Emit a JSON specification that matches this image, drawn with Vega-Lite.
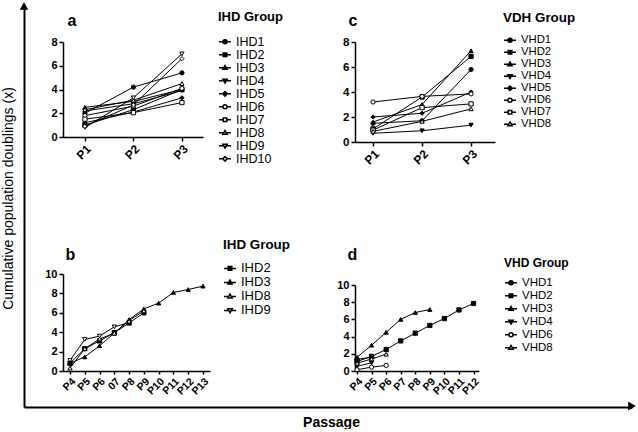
{
  "$schema": "https://vega.github.io/schema/vega-lite/v6.json",
  "background": "white",
  "padding": {"left": 1, "top": 2, "right": 0, "bottom": 0},
  "bounds": "flush",
  "spacing": 400,
  "config": {
    "font": "Liberation Sans",
    "view": {"stroke": null},
    "axis": {"domainColor": "black", "tickColor": "black", "labelColor": "black", "titleColor": "black", "grid": false, "labelFont": "Liberation Sans", "titleFont": "Liberation Sans"},
    "legend": {"labelFont": "Liberation Sans", "titleFont": "Liberation Sans", "labelColor": "black", "titleColor": "black"}
  },
  "datasets": {
    "a": [
      {"series": "IHD1", "passage": "P1", "n": 1, "value": 2.0}, {"series": "IHD1", "passage": "P2", "n": 2, "value": 4.2}, {"series": "IHD1", "passage": "P3", "n": 3, "value": 5.4},
      {"series": "IHD2", "passage": "P1", "n": 1, "value": 1.0}, {"series": "IHD2", "passage": "P2", "n": 2, "value": 2.3}, {"series": "IHD2", "passage": "P3", "n": 3, "value": 4.0},
      {"series": "IHD3", "passage": "P1", "n": 1, "value": 2.5}, {"series": "IHD3", "passage": "P2", "n": 2, "value": 3.0}, {"series": "IHD3", "passage": "P3", "n": 3, "value": 4.0},
      {"series": "IHD4", "passage": "P1", "n": 1, "value": 2.2}, {"series": "IHD4", "passage": "P2", "n": 2, "value": 2.8}, {"series": "IHD4", "passage": "P3", "n": 3, "value": 3.9},
      {"series": "IHD5", "passage": "P1", "n": 1, "value": 1.2}, {"series": "IHD5", "passage": "P2", "n": 2, "value": 2.1}, {"series": "IHD5", "passage": "P3", "n": 3, "value": 3.3},
      {"series": "IHD6", "passage": "P1", "n": 1, "value": 1.8}, {"series": "IHD6", "passage": "P2", "n": 2, "value": 2.6}, {"series": "IHD6", "passage": "P3", "n": 3, "value": 4.1},
      {"series": "IHD7", "passage": "P1", "n": 1, "value": 1.5}, {"series": "IHD7", "passage": "P2", "n": 2, "value": 2.05}, {"series": "IHD7", "passage": "P3", "n": 3, "value": 2.9},
      {"series": "IHD8", "passage": "P1", "n": 1, "value": 2.3}, {"series": "IHD8", "passage": "P2", "n": 2, "value": 3.1}, {"series": "IHD8", "passage": "P3", "n": 3, "value": 4.5},
      {"series": "IHD9", "passage": "P1", "n": 1, "value": 0.8}, {"series": "IHD9", "passage": "P2", "n": 2, "value": 3.3}, {"series": "IHD9", "passage": "P3", "n": 3, "value": 7.0},
      {"series": "IHD10", "passage": "P1", "n": 1, "value": 0.9}, {"series": "IHD10", "passage": "P2", "n": 2, "value": 2.7}, {"series": "IHD10", "passage": "P3", "n": 3, "value": 6.6}
    ],
    "c": [
      {"series": "VHD1", "passage": "P1", "n": 1, "value": 1.5}, {"series": "VHD1", "passage": "P2", "n": 2, "value": 1.7}, {"series": "VHD1", "passage": "P3", "n": 3, "value": 5.8},
      {"series": "VHD2", "passage": "P1", "n": 1, "value": 1.05}, {"series": "VHD2", "passage": "P2", "n": 2, "value": 3.6}, {"series": "VHD2", "passage": "P3", "n": 3, "value": 6.85},
      {"series": "VHD3", "passage": "P1", "n": 1, "value": 1.6}, {"series": "VHD3", "passage": "P2", "n": 2, "value": 3.0}, {"series": "VHD3", "passage": "P3", "n": 3, "value": 7.3},
      {"series": "VHD4", "passage": "P1", "n": 1, "value": 0.7}, {"series": "VHD4", "passage": "P2", "n": 2, "value": 0.9}, {"series": "VHD4", "passage": "P3", "n": 3, "value": 1.35},
      {"series": "VHD5", "passage": "P1", "n": 1, "value": 2.0}, {"series": "VHD5", "passage": "P2", "n": 2, "value": 2.3}, {"series": "VHD5", "passage": "P3", "n": 3, "value": 4.0},
      {"series": "VHD6", "passage": "P1", "n": 1, "value": 3.2}, {"series": "VHD6", "passage": "P2", "n": 2, "value": 3.65}, {"series": "VHD6", "passage": "P3", "n": 3, "value": 3.85},
      {"series": "VHD7", "passage": "P1", "n": 1, "value": 0.95}, {"series": "VHD7", "passage": "P2", "n": 2, "value": 2.75}, {"series": "VHD7", "passage": "P3", "n": 3, "value": 3.05},
      {"series": "VHD8", "passage": "P1", "n": 1, "value": 0.85}, {"series": "VHD8", "passage": "P2", "n": 2, "value": 1.65}, {"series": "VHD8", "passage": "P3", "n": 3, "value": 2.65}
    ],
    "b": [
      {"series": "IHD2", "passage": "P4", "n": 4, "value": 0.8}, {"series": "IHD2", "passage": "P5", "n": 5, "value": 2.3}, {"series": "IHD2", "passage": "P6", "n": 6, "value": 3.1}, {"series": "IHD2", "passage": "P7", "n": 7, "value": 3.95}, {"series": "IHD2", "passage": "P8", "n": 8, "value": 4.95}, {"series": "IHD2", "passage": "P9", "n": 9, "value": 6.0},
      {"series": "IHD3", "passage": "P4", "n": 4, "value": 0.8}, {"series": "IHD3", "passage": "P5", "n": 5, "value": 1.45}, {"series": "IHD3", "passage": "P6", "n": 6, "value": 2.6}, {"series": "IHD3", "passage": "P7", "n": 7, "value": 3.9}, {"series": "IHD3", "passage": "P8", "n": 8, "value": 5.3}, {"series": "IHD3", "passage": "P9", "n": 9, "value": 6.4}, {"series": "IHD3", "passage": "P10", "n": 10, "value": 7.0}, {"series": "IHD3", "passage": "P11", "n": 11, "value": 8.1}, {"series": "IHD3", "passage": "P12", "n": 12, "value": 8.4}, {"series": "IHD3", "passage": "P13", "n": 13, "value": 8.75},
      {"series": "IHD8", "passage": "P4", "n": 4, "value": 0.3}, {"series": "IHD8", "passage": "P5", "n": 5, "value": 2.3}, {"series": "IHD8", "passage": "P6", "n": 6, "value": 3.3}, {"series": "IHD8", "passage": "P7", "n": 7, "value": 3.9}, {"series": "IHD8", "passage": "P8", "n": 8, "value": 5.2}, {"series": "IHD8", "passage": "P9", "n": 9, "value": 6.2},
      {"series": "IHD9", "passage": "P4", "n": 4, "value": 1.1}, {"series": "IHD9", "passage": "P5", "n": 5, "value": 3.25}, {"series": "IHD9", "passage": "P6", "n": 6, "value": 3.6}, {"series": "IHD9", "passage": "P7", "n": 7, "value": 4.55}, {"series": "IHD9", "passage": "P8", "n": 8, "value": 5.0}
    ],
    "d": [
      {"series": "VHD1", "passage": "P4", "n": 4, "value": 1.35}, {"series": "VHD1", "passage": "P5", "n": 5, "value": 1.6},
      {"series": "VHD2", "passage": "P4", "n": 4, "value": 1.1}, {"series": "VHD2", "passage": "P5", "n": 5, "value": 1.7}, {"series": "VHD2", "passage": "P6", "n": 6, "value": 2.5}, {"series": "VHD2", "passage": "P7", "n": 7, "value": 3.5}, {"series": "VHD2", "passage": "P8", "n": 8, "value": 4.4}, {"series": "VHD2", "passage": "P9", "n": 9, "value": 5.3}, {"series": "VHD2", "passage": "P10", "n": 10, "value": 6.1}, {"series": "VHD2", "passage": "P11", "n": 11, "value": 7.1}, {"series": "VHD2", "passage": "P12", "n": 12, "value": 7.85},
      {"series": "VHD3", "passage": "P4", "n": 4, "value": 1.6}, {"series": "VHD3", "passage": "P5", "n": 5, "value": 3.0}, {"series": "VHD3", "passage": "P6", "n": 6, "value": 4.5}, {"series": "VHD3", "passage": "P7", "n": 7, "value": 6.0}, {"series": "VHD3", "passage": "P8", "n": 8, "value": 6.8}, {"series": "VHD3", "passage": "P9", "n": 9, "value": 7.15},
      {"series": "VHD4", "passage": "P4", "n": 4, "value": 0.55}, {"series": "VHD4", "passage": "P5", "n": 5, "value": 0.95},
      {"series": "VHD6", "passage": "P4", "n": 4, "value": 0.15}, {"series": "VHD6", "passage": "P5", "n": 5, "value": 0.45}, {"series": "VHD6", "passage": "P6", "n": 6, "value": 0.65},
      {"series": "VHD8", "passage": "P4", "n": 4, "value": 0.9}, {"series": "VHD8", "passage": "P5", "n": 5, "value": 1.4}, {"series": "VHD8", "passage": "P6", "n": 6, "value": 1.95}
    ]
  },
  "vconcat": [
    {
      "hconcat": [
        {
          "width": 1, "height": 401,
          "data": {"values": [{"end": 1}]},
          "mark": {"type": "point", "shape": "triangle-up", "filled": true, "color": "black", "size": 75, "opacity": 1},
          "encoding": {
            "x": {"datum": 0, "type": "quantitative", "scale": {"domain": [0, 1]}, "axis": null},
            "y": {"field": "end", "type": "quantitative", "scale": {"domain": [0, 1]},
              "axis": {"domainWidth": 2, "ticks": false, "labels": false, "title": "Cumulative population doublings (x)", "titleFontSize": 14, "titleFontWeight": "normal", "titlePadding": 9, "titleY": 192}}
          }
        },
        {
          "vconcat": [
            {
              "width": 1, "height": 1,
              "data": {"values": [{"end": 1}]},
              "mark": {"type": "point", "opacity": 0, "size": 1},
              "encoding": {}
            },
            {
              "hconcat": [
                {
                  "vconcat": [
                    {
                      "width": 140, "height": 95,
                      "data": {"name": "a"},
                      "encoding": {
                        "x": {"field": "passage", "type": "ordinal", "scale": {"type": "point", "domain": ["P1", "P2", "P3"], "padding": 0.443, "align": 0.51},
                          "axis": {"title": null, "labelAngle": -45, "labelFontSize": 12, "labelFontWeight": "bold", "tickSize": 4, "tickWidth": 1.5, "domainWidth": 1.5, "labelPadding": 2}},
                        "y": {"field": "value", "type": "quantitative", "scale": {"domain": [0, 8], "nice": false},
                          "axis": {"values": [0, 2, 4, 6, 8], "labelFontSize": 11, "labelFontWeight": "bold", "tickSize": 4, "tickWidth": 1.5, "domainWidth": 1.5, "labelPadding": 2,
                            "title": "a", "titleAngle": 0, "titleX": 4, "titleY": -17, "titleAlign": "left", "titleBaseline": "alphabetic", "titleFontSize": 16, "titleFontWeight": "bold"}}
                      },
                      "layer": [
                        {"mark": {"type": "line", "color": "black", "strokeWidth": 1}, "encoding": {"detail": {"field": "series"}, "order": {"field": "n", "type": "quantitative"}}},
                        {"mark": {"type": "point", "filled": true, "stroke": "black", "strokeWidth": 1, "size": 18, "opacity": 1},
                          "encoding": {
                            "shape": {"field": "series", "scale": {"domain": ["IHD1", "IHD2", "IHD3", "IHD4", "IHD5", "IHD6", "IHD7", "IHD8", "IHD9", "IHD10"], "range": ["circle", "square", "triangle-up", "triangle-down", "diamond", "circle", "square", "triangle-up", "triangle-down", "diamond"]}, "legend": null},
                            "fill": {"field": "series", "scale": {"domain": ["IHD1", "IHD2", "IHD3", "IHD4", "IHD5", "IHD6", "IHD7", "IHD8", "IHD9", "IHD10"], "range": ["black", "black", "black", "black", "black", "white", "white", "white", "white", "white"]}, "legend": null}
                          }},
                        {"transform": [{"filter": "false"}],
                          "mark": {"type": "point", "filled": true, "stroke": "black", "strokeWidth": 1, "size": 144, "opacity": 1},
                          "encoding": {
                            "shape": {"field": "series", "scale": {"domain": ["IHD1", "IHD2", "IHD3", "IHD4", "IHD5", "IHD6", "IHD7", "IHD8", "IHD9", "IHD10"], "range": [
                              "M-1,0H-0.34M0.34,0H1M-0.34,0A0.34,0.34,0,1,1,0.34,0A0.34,0.34,0,1,1,-0.34,0Z",
                              "M-1,0H-0.3M0.3,0H1M-0.3,-0.3H0.3V0.3H-0.3Z",
                              "M-1,0H-0.22M0.22,0H1M0,-0.38L0.36,0.26H-0.36Z",
                              "M-1,0H-0.22M0.22,0H1M0,0.38L0.36,-0.26H-0.36Z",
                              "M-1,0H-0.38M0.38,0H1M0,-0.38L0.38,0L0,0.38L-0.38,0Z",
                              "M-1,0H-0.34M0.34,0H1M-0.34,0A0.34,0.34,0,1,1,0.34,0A0.34,0.34,0,1,1,-0.34,0Z",
                              "M-1,0H-0.3M0.3,0H1M-0.3,-0.3H0.3V0.3H-0.3Z",
                              "M-1,0H-0.22M0.22,0H1M0,-0.38L0.36,0.26H-0.36Z",
                              "M-1,0H-0.22M0.22,0H1M0,0.38L0.36,-0.26H-0.36Z",
                              "M-1,0H-0.38M0.38,0H1M0,-0.38L0.38,0L0,0.38L-0.38,0Z"]},
                              "legend": {"title": "IHD Group", "orient": "none", "legendX": 155, "legendY": -31, "padding": 0, "titleFontSize": 13, "titleFontWeight": "bold", "titlePadding": 12, "labelFontSize": 12.5, "labelOffset": 4, "symbolSize": 144, "clipHeight": 11.6, "rowPadding": -3.7,
                                "encode": {"symbols": {"update": {"stroke": {"value": "black"}, "strokeWidth": {"value": 1}}}}}},
                            "fill": {"field": "series", "scale": {"domain": ["IHD1", "IHD2", "IHD3", "IHD4", "IHD5", "IHD6", "IHD7", "IHD8", "IHD9", "IHD10"], "range": ["black", "black", "black", "black", "black", "white", "white", "white", "white", "white"]},
                              "legend": {"title": "IHD Group", "orient": "none", "legendX": 155, "legendY": -31, "padding": 0, "titleFontSize": 13, "titleFontWeight": "bold", "titlePadding": 12, "labelFontSize": 12.5, "labelOffset": 4, "symbolSize": 144, "clipHeight": 11.6, "rowPadding": -3.7,
                                "encode": {"symbols": {"update": {"stroke": {"value": "black"}, "strokeWidth": {"value": 1}}}}}}
                          }}
                      ],
                      "resolve": {"scale": {"shape": "independent", "fill": "independent"}}
                    },
                    {
                      "width": 147, "height": 97,
                      "data": {"name": "b"},
                      "encoding": {
                        "x": {"field": "passage", "type": "ordinal", "scale": {"type": "point", "domain": ["P4", "P5", "P6", "P7", "P8", "P9", "P10", "P11", "P12", "P13"], "padding": 0.474, "align": 0.5},
                          "axis": {"title": null, "labelAngle": -45, "labelFontSize": 10.5, "labelFontWeight": "bold", "tickSize": 3, "tickWidth": 1.5, "domainWidth": 1.5, "labelPadding": 2, "labelExpr": "datum.value == 'P7' ? '07' : datum.label"}},
                        "y": {"field": "value", "type": "quantitative", "scale": {"domain": [0, 10], "nice": false},
                          "axis": {"values": [0, 2, 4, 6, 8, 10], "labelFontSize": 11, "labelFontWeight": "bold", "tickSize": 4, "tickWidth": 1.5, "domainWidth": 1.5, "labelPadding": 2,
                            "title": "b", "titleAngle": 0, "titleX": 2, "titleY": -15, "titleAlign": "left", "titleBaseline": "alphabetic", "titleFontSize": 16, "titleFontWeight": "bold"}}
                      },
                      "layer": [
                        {"mark": {"type": "line", "color": "black", "strokeWidth": 1}, "encoding": {"detail": {"field": "series"}, "order": {"field": "n", "type": "quantitative"}}},
                        {"mark": {"type": "point", "filled": true, "stroke": "black", "strokeWidth": 1, "size": 18, "opacity": 1},
                          "encoding": {
                            "shape": {"field": "series", "scale": {"domain": ["IHD2", "IHD3", "IHD8", "IHD9"], "range": ["square", "triangle-up", "triangle-up", "triangle-down"]}, "legend": null},
                            "fill": {"field": "series", "scale": {"domain": ["IHD2", "IHD3", "IHD8", "IHD9"], "range": ["black", "black", "white", "white"]}, "legend": null}
                          }},
                        {"transform": [{"filter": "false"}],
                          "mark": {"type": "point", "filled": true, "stroke": "black", "strokeWidth": 1, "size": 144, "opacity": 1},
                          "encoding": {
                            "shape": {"field": "series", "scale": {"domain": ["IHD2", "IHD3", "IHD8", "IHD9"], "range": [
                              "M-1,0H-0.3M0.3,0H1M-0.3,-0.3H0.3V0.3H-0.3Z",
                              "M-1,0H-0.22M0.22,0H1M0,-0.38L0.36,0.26H-0.36Z",
                              "M-1,0H-0.22M0.22,0H1M0,-0.38L0.36,0.26H-0.36Z",
                              "M-1,0H-0.22M0.22,0H1M0,0.38L0.36,-0.26H-0.36Z"]},
                              "legend": {"title": "IHD Group", "orient": "none", "legendX": 160, "legendY": -36, "padding": 0, "titleFontSize": 13.4, "titleFontWeight": "bold", "titlePadding": 10, "labelFontSize": 13, "labelOffset": 4, "symbolSize": 144, "rowPadding": 0,
                                "encode": {"symbols": {"update": {"stroke": {"value": "black"}, "strokeWidth": {"value": 1}}}}}},
                            "fill": {"field": "series", "scale": {"domain": ["IHD2", "IHD3", "IHD8", "IHD9"], "range": ["black", "black", "white", "white"]},
                              "legend": {"title": "IHD Group", "orient": "none", "legendX": 160, "legendY": -36, "padding": 0, "titleFontSize": 13.4, "titleFontWeight": "bold", "titlePadding": 10, "labelFontSize": 13, "labelOffset": 4, "symbolSize": 144, "rowPadding": 0,
                                "encode": {"symbols": {"update": {"stroke": {"value": "black"}, "strokeWidth": {"value": 1}}}}}}
                          }}
                      ],
                      "resolve": {"scale": {"shape": "independent", "fill": "independent"}}
                    }
                  ],
                  "spacing": 137,
                  "bounds": "flush"
                },
                {
                  "vconcat": [
                    {
                      "width": 140, "height": 100,
                      "data": {"name": "c"},
                      "encoding": {
                        "x": {"field": "passage", "type": "ordinal", "scale": {"type": "point", "domain": ["P1", "P2", "P3"], "padding": 0.4286, "align": 0.43},
                          "axis": {"title": null, "labelAngle": -45, "labelFontSize": 12, "labelFontWeight": "bold", "tickSize": 4, "tickWidth": 1.5, "domainWidth": 1.5, "labelPadding": 2}},
                        "y": {"field": "value", "type": "quantitative", "scale": {"domain": [0, 8], "nice": false},
                          "axis": {"values": [0, 2, 4, 6, 8], "labelFontSize": 11.5, "labelFontWeight": "bold", "tickSize": 4, "tickWidth": 1.5, "domainWidth": 1.5, "labelPadding": 2,
                            "title": "c", "titleAngle": 0, "titleX": -7, "titleY": -17, "titleAlign": "left", "titleBaseline": "alphabetic", "titleFontSize": 16, "titleFontWeight": "bold"}}
                      },
                      "layer": [
                        {"mark": {"type": "line", "color": "black", "strokeWidth": 1}, "encoding": {"detail": {"field": "series"}, "order": {"field": "n", "type": "quantitative"}}},
                        {"mark": {"type": "point", "filled": true, "stroke": "black", "strokeWidth": 1, "size": 18, "opacity": 1},
                          "encoding": {
                            "shape": {"field": "series", "scale": {"domain": ["VHD1", "VHD2", "VHD3", "VHD4", "VHD5", "VHD6", "VHD7", "VHD8"], "range": ["circle", "square", "triangle-up", "triangle-down", "diamond", "circle", "square", "triangle-up"]}, "legend": null},
                            "fill": {"field": "series", "scale": {"domain": ["VHD1", "VHD2", "VHD3", "VHD4", "VHD5", "VHD6", "VHD7", "VHD8"], "range": ["black", "black", "black", "black", "black", "white", "white", "white"]}, "legend": null}
                          }},
                        {"transform": [{"filter": "false"}],
                          "mark": {"type": "point", "filled": true, "stroke": "black", "strokeWidth": 1, "size": 144, "opacity": 1},
                          "encoding": {
                            "shape": {"field": "series", "scale": {"domain": ["VHD1", "VHD2", "VHD3", "VHD4", "VHD5", "VHD6", "VHD7", "VHD8"], "range": [
                              "M-1,0H-0.34M0.34,0H1M-0.34,0A0.34,0.34,0,1,1,0.34,0A0.34,0.34,0,1,1,-0.34,0Z",
                              "M-1,0H-0.3M0.3,0H1M-0.3,-0.3H0.3V0.3H-0.3Z",
                              "M-1,0H-0.22M0.22,0H1M0,-0.38L0.36,0.26H-0.36Z",
                              "M-1,0H-0.22M0.22,0H1M0,0.38L0.36,-0.26H-0.36Z",
                              "M-1,0H-0.38M0.38,0H1M0,-0.38L0.38,0L0,0.38L-0.38,0Z",
                              "M-1,0H-0.34M0.34,0H1M-0.34,0A0.34,0.34,0,1,1,0.34,0A0.34,0.34,0,1,1,-0.34,0Z",
                              "M-1,0H-0.3M0.3,0H1M-0.3,-0.3H0.3V0.3H-0.3Z",
                              "M-1,0H-0.22M0.22,0H1M0,-0.38L0.36,0.26H-0.36Z"]},
                              "legend": {"title": "VDH Group", "orient": "none", "legendX": 148, "legendY": -31, "padding": 0, "titleFontSize": 13.4, "titleFontWeight": "bold", "titlePadding": 10, "labelFontSize": 11.3, "labelOffset": 4, "symbolSize": 144, "clipHeight": 11.6, "rowPadding": -3.7,
                                "encode": {"symbols": {"update": {"stroke": {"value": "black"}, "strokeWidth": {"value": 1}}}}}},
                            "fill": {"field": "series", "scale": {"domain": ["VHD1", "VHD2", "VHD3", "VHD4", "VHD5", "VHD6", "VHD7", "VHD8"], "range": ["black", "black", "black", "black", "black", "white", "white", "white"]},
                              "legend": {"title": "VDH Group", "orient": "none", "legendX": 148, "legendY": -31, "padding": 0, "titleFontSize": 13.4, "titleFontWeight": "bold", "titlePadding": 10, "labelFontSize": 11.3, "labelOffset": 4, "symbolSize": 144, "clipHeight": 11.6, "rowPadding": -3.7,
                                "encode": {"symbols": {"update": {"stroke": {"value": "black"}, "strokeWidth": {"value": 1}}}}}}
                          }}
                      ],
                      "resolve": {"scale": {"shape": "independent", "fill": "independent"}}
                    },
                    {
                      "width": 124, "height": 86,
                      "data": {"name": "d"},
                      "encoding": {
                        "x": {"field": "passage", "type": "ordinal", "scale": {"type": "point", "domain": ["P4", "P5", "P6", "P7", "P8", "P9", "P10", "P11", "P12"], "padding": 0.2575, "align": 0.27},
                          "axis": {"title": null, "labelAngle": -45, "labelFontSize": 10.5, "labelFontWeight": "bold", "tickSize": 3, "tickWidth": 1.5, "domainWidth": 1.5, "labelPadding": 2}},
                        "y": {"field": "value", "type": "quantitative", "scale": {"domain": [0, 10], "nice": false},
                          "axis": {"values": [0, 2, 4, 6, 8, 10], "labelFontSize": 11, "labelFontWeight": "bold", "tickSize": 4, "tickWidth": 1.5, "domainWidth": 1.5, "labelPadding": 2,
                            "title": "d", "titleAngle": 0, "titleX": -8, "titleY": -26, "titleAlign": "left", "titleBaseline": "alphabetic", "titleFontSize": 16, "titleFontWeight": "bold"}}
                      },
                      "layer": [
                        {"mark": {"type": "line", "color": "black", "strokeWidth": 1}, "encoding": {"detail": {"field": "series"}, "order": {"field": "n", "type": "quantitative"}}},
                        {"mark": {"type": "point", "filled": true, "stroke": "black", "strokeWidth": 1, "size": 18, "opacity": 1},
                          "encoding": {
                            "shape": {"field": "series", "scale": {"domain": ["VHD1", "VHD2", "VHD3", "VHD4", "VHD6", "VHD8"], "range": ["circle", "square", "triangle-up", "triangle-down", "circle", "triangle-up"]}, "legend": null},
                            "fill": {"field": "series", "scale": {"domain": ["VHD1", "VHD2", "VHD3", "VHD4", "VHD6", "VHD8"], "range": ["black", "black", "black", "black", "white", "white"]}, "legend": null}
                          }},
                        {"transform": [{"filter": "false"}],
                          "mark": {"type": "point", "filled": true, "stroke": "black", "strokeWidth": 1, "size": 144, "opacity": 1},
                          "encoding": {
                            "shape": {"field": "series", "scale": {"domain": ["VHD1", "VHD2", "VHD3", "VHD4", "VHD6", "VHD8"], "range": [
                              "M-1,0H-0.34M0.34,0H1M-0.34,0A0.34,0.34,0,1,1,0.34,0A0.34,0.34,0,1,1,-0.34,0Z",
                              "M-1,0H-0.3M0.3,0H1M-0.3,-0.3H0.3V0.3H-0.3Z",
                              "M-1,0H-0.22M0.22,0H1M0,-0.38L0.36,0.26H-0.36Z",
                              "M-1,0H-0.22M0.22,0H1M0,0.38L0.36,-0.26H-0.36Z",
                              "M-1,0H-0.34M0.34,0H1M-0.34,0A0.34,0.34,0,1,1,0.34,0A0.34,0.34,0,1,1,-0.34,0Z",
                              "M-1,0H-0.22M0.22,0H1M0,-0.38L0.36,0.26H-0.36Z"]},
                              "legend": {"title": "VHD Group", "orient": "none", "legendX": 149, "legendY": -27.5, "padding": 0, "titleFontSize": 12, "titleFontWeight": "bold", "titlePadding": 7, "labelFontSize": 11.5, "labelOffset": 4, "symbolSize": 144, "clipHeight": 12.5, "rowPadding": -0.8,
                                "encode": {"symbols": {"update": {"stroke": {"value": "black"}, "strokeWidth": {"value": 1}}}}}},
                            "fill": {"field": "series", "scale": {"domain": ["VHD1", "VHD2", "VHD3", "VHD4", "VHD6", "VHD8"], "range": ["black", "black", "black", "black", "white", "white"]},
                              "legend": {"title": "VHD Group", "orient": "none", "legendX": 149, "legendY": -27.5, "padding": 0, "titleFontSize": 12, "titleFontWeight": "bold", "titlePadding": 7, "labelFontSize": 11.5, "labelOffset": 4, "symbolSize": 144, "clipHeight": 12.5, "rowPadding": -0.8,
                                "encode": {"symbols": {"update": {"stroke": {"value": "black"}, "strokeWidth": {"value": 1}}}}}}
                          }}
                      ],
                      "resolve": {"scale": {"shape": "independent", "fill": "independent"}}
                    }
                  ],
                  "spacing": 143,
                  "bounds": "flush"
                }
              ],
              "spacing": 292,
              "bounds": "flush"
            }
          ],
          "spacing": 35,
          "bounds": "flush"
        }
      ],
      "spacing": 38,
      "bounds": "flush"
    },
    {
      "width": 608, "height": 1,
      "data": {"values": [{"end": 1}]},
      "mark": {"type": "point", "shape": "triangle-right", "filled": true, "color": "black", "size": 80, "opacity": 1},
      "encoding": {
        "x": {"field": "end", "type": "quantitative", "scale": {"domain": [0, 1]},
          "axis": {"domainWidth": 2, "ticks": false, "labels": false, "title": "Passage", "titleFontSize": 14, "titleFontWeight": "bold", "titlePadding": 8, "titleX": 307}},
        "y": {"datum": 1, "type": "quantitative", "scale": {"domain": [0, 1]}, "axis": null}
      }
    }
  ]
}
